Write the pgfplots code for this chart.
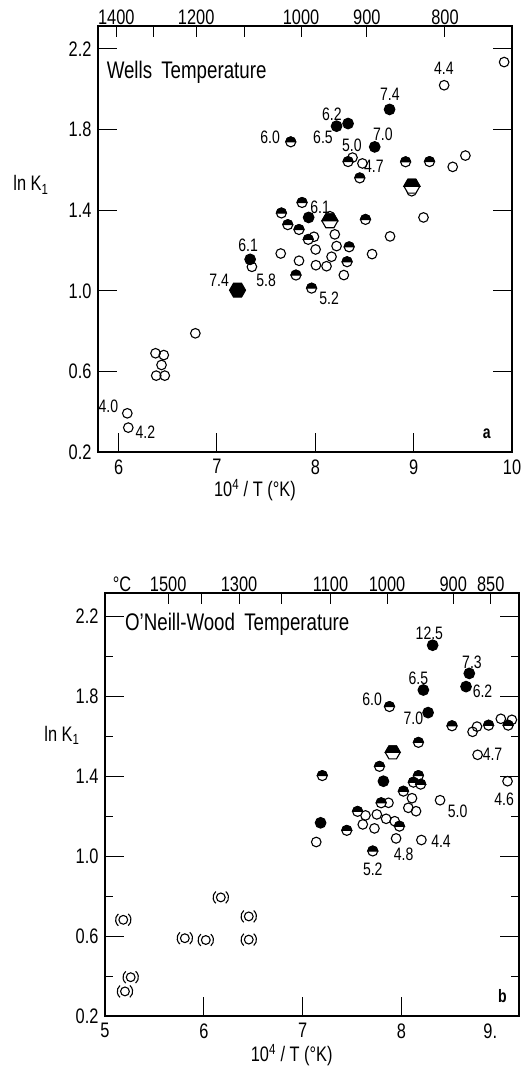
\documentclass[border=0pt]{standalone}
\usepackage{fontspec}
\setmainfont{Liberation Sans}[FakeStretch=0.78]
\usepackage{pgfplots}
\pgfplotsset{compat=1.18}
\usetikzlibrary{plotmarks}

% marks: half filled circle, hexagons, circle in brackets
\pgfdeclareplotmark{halfc}{%
  \pgfpathcircle{\pgfpointorigin}{\pgfplotmarksize}%
  \pgfsetfillcolor{white}\pgfusepathqfillstroke
  \pgfpathmoveto{\pgfqpoint{\pgfplotmarksize}{0pt}}%
  \pgfpatharc{0}{180}{\pgfplotmarksize}%
  \pgfpathclose
  \pgfsetfillcolor{black}\pgfusepathqfillstroke}
\pgfdeclareplotmark{hexf}{%
  \pgfpathmoveto{\pgfpointpolar{0}{\pgfplotmarksize}}%
  \pgfpathlineto{\pgfpointpolar{60}{\pgfplotmarksize}}%
  \pgfpathlineto{\pgfpointpolar{120}{\pgfplotmarksize}}%
  \pgfpathlineto{\pgfpointpolar{180}{\pgfplotmarksize}}%
  \pgfpathlineto{\pgfpointpolar{240}{\pgfplotmarksize}}%
  \pgfpathlineto{\pgfpointpolar{300}{\pgfplotmarksize}}%
  \pgfpathclose
  \pgfsetfillcolor{black}\pgfusepathqfillstroke}
\pgfdeclareplotmark{hexh}{%
  \pgfpathmoveto{\pgfpointpolar{0}{\pgfplotmarksize}}%
  \pgfpathlineto{\pgfpointpolar{60}{\pgfplotmarksize}}%
  \pgfpathlineto{\pgfpointpolar{120}{\pgfplotmarksize}}%
  \pgfpathlineto{\pgfpointpolar{180}{\pgfplotmarksize}}%
  \pgfpathlineto{\pgfpointpolar{240}{\pgfplotmarksize}}%
  \pgfpathlineto{\pgfpointpolar{300}{\pgfplotmarksize}}%
  \pgfpathclose
  \pgfsetfillcolor{white}\pgfusepathqfillstroke
  \pgfpathmoveto{\pgfpointpolar{0}{\pgfplotmarksize}}%
  \pgfpathlineto{\pgfpointpolar{60}{\pgfplotmarksize}}%
  \pgfpathlineto{\pgfpointpolar{120}{\pgfplotmarksize}}%
  \pgfpathlineto{\pgfpointpolar{180}{\pgfplotmarksize}}%
  \pgfpathclose
  \pgfsetfillcolor{black}\pgfusepathqfillstroke}
\pgfdeclareplotmark{pcirc}{%
  \pgfpathcircle{\pgfpointorigin}{\pgfplotmarksize}%
  \pgfusepathqstroke
  \pgfpathmoveto{\pgfpointpolar{130}{1.75\pgfplotmarksize}}%
  \pgfpatharc{130}{230}{1.75\pgfplotmarksize}%
  \pgfpathmoveto{\pgfpointpolar{-50}{1.75\pgfplotmarksize}}%
  \pgfpatharc{-50}{50}{1.75\pgfplotmarksize}%
  \pgfusepathqstroke}

\pgfplotsset{
  panel/.style={scale only axis, anchor=south west, clip=false,
    axis line style={line width=1.4pt}, tick style={line width=1pt, black},
    major tick length=19pt, minor tick length=8pt, tick align=inside,
    ticklabel style={font=\fontsize{21}{24}\selectfont},
    xticklabel style={yshift=-4pt}, yticklabel style={xshift=-3pt}},
  toptemp/.style={scale only axis, anchor=south west,
    axis x line*=top, axis y line=none, axis line style={line width=1.4pt},
    tick style={line width=1pt, black}, major tick length=11pt, tick align=inside,
    xticklabel style={font=\fontsize{21}{24}\selectfont, inner sep=1.5pt}},
  op/.style={only marks, mark=o, mark size=4.8pt, mark options={line width=1.1pt, draw=black}},
  fl/.style={only marks, mark=*, mark size=5.3pt, mark options={line width=1.1pt, draw=black, fill=black}},
  hf/.style={only marks, mark=halfc, mark size=5pt, mark options={line width=1.1pt, draw=black}},
  pc/.style={only marks, mark=pcirc, mark size=4.4pt, mark options={line width=1.1pt, draw=black}},
}
\tikzset{lab/.style={font=\fontsize{18}{21}\selectfont, inner sep=0pt},
  big/.style={font=\fontsize{21}{24}\selectfont, inner sep=0pt}}

\begin{document}
\begin{tikzpicture}
\useasboundingbox (0,0) rectangle (522pt,-1068pt);

% ---------- panel a: Wells temperature ----------
\begin{axis}[panel, at={(98pt,-452pt)}, width=414pt, height=426pt,
  xmin=5.79, xmax=10, ymin=0.2, ymax=2.314,
  xtick={6,7,8,9,10}, xticklabels={6,7,8,9,10}, xtick pos=left,
  ytick={0.2,0.6,1.0,1.4,1.8,2.2}, yticklabels={0.2,0.6,1.0,1.4,1.8,2.2}]
\addplot[op] coordinates {
 (9.92,2.135)(9.31,2.02)(8.378,1.661)(8.479,1.632)(9.397,1.615)(9.526,1.671)
 (8.98,1.494)(9.10,1.364)(8.148,1.370)(7.986,1.268)(8.198,1.28)(8.003,1.205)
 (8.216,1.222)(7.648,1.185)(8.577,1.182)(8.76,1.27)(7.834,1.149)(8.165,1.169)
 (8.006,1.127)(8.114,1.122)(8.29,1.078)(7.355,1.119)(6.78,0.789)(6.375,0.69)
 (6.459,0.681)(6.436,0.632)(6.382,0.579)(6.469,0.579)(6.088,0.392)(6.098,0.321)
};
\addplot[hf] coordinates {
 (7.75,1.739)(8.333,1.641)(8.452,1.56)(8.918,1.64)(9.161,1.641)(7.865,1.438)
 (7.655,1.386)(8.51,1.354)(7.72,1.328)(7.834,1.304)(7.928,1.255)(8.344,1.218)
 (8.323,1.144)(7.803,1.078)(7.962,1.013)
};
\addplot[fl] coordinates {
 (8.755,1.90)(8.216,1.817)(8.333,1.83)(8.604,1.714)(7.932,1.364)(7.337,1.156)
};
\addplot[only marks, mark=hexh, mark size=8pt, mark options={line width=1.1pt, draw=black}]
 coordinates {(8.982,1.519)(8.148,1.347)};
\addplot[only marks, mark=hexf, mark size=8pt, mark options={line width=1.1pt, draw=black}]
 coordinates {(7.209,1.003)};

\node[font=\fontsize{24}{28}\selectfont, inner sep=0pt, anchor=west] at (axis cs:5.877,2.086) {Wells\, Temperature};
\node[lab] at (axis cs:9.307,2.106) {4.4};
\node[lab] at (axis cs:8.758,1.977) {7.4};
\node[lab] at (axis cs:8.169,1.877) {6.2};
\node[lab] at (axis cs:7.54,1.763) {6.0};
\node[lab] at (axis cs:8.078,1.763) {6.5};
\node[lab] at (axis cs:8.372,1.724) {5.0};
\node[lab] at (axis cs:8.687,1.778) {7.0};
\node[lab] at (axis cs:8.596,1.619) {4.7};
\node[lab] at (axis cs:8.049,1.416) {6.1};
\node[lab] at (axis cs:7.317,1.227) {6.1};
\node[lab] at (axis cs:7.022,1.054) {7.4};
\node[lab] at (axis cs:7.5,1.054) {5.8};
\node[lab] at (axis cs:8.14,0.964) {5.2};
\node[lab] at (axis cs:5.895,0.428) {4.0};
\node[lab] at (axis cs:6.271,0.299) {4.2};
\node[lab, font=\fontsize{18}{21}\selectfont\bfseries] at (axis cs:9.743,0.289) {a};
\node[big] at (rel axis cs:-0.162,0.627) {ln K\textsubscript{1}};
\node[big] at (rel axis cs:0.379,-0.09) {10\textsuperscript{4} / T (°K)};
\end{axis}
\begin{axis}[toptemp, at={(98pt,-452pt)}, width=414pt, height=426pt,
  xmin=5.79, xmax=10, ymin=0.2, ymax=2.314,
  xtick={5.9767,6.3567,6.7882,7.2825,7.8545,8.5241,9.3184},
  xticklabels={1400,,1200,,1000,900,800}]
\end{axis}

% ---------- panel b: O'Neill-Wood temperature ----------
\begin{axis}[panel, at={(105pt,-1016pt)}, width=414pt, height=423pt,
  xmin=5, xmax=9.19, ymin=0.2, ymax=2.315,
  xtick={5,6,7,8}, xticklabels={5,6,7,8}, xtick pos=left,
  extra x ticks={9}, extra x tick labels={9.},
  extra x tick style={major tick length=0pt, xticklabel style={xshift=-10pt}},
  ytick={0.2,0.6,1.0,1.4,1.8,2.2}, yticklabels={0.2,0.6,1.0,1.4,1.8,2.2},
  minor ytick={0.4,0.8,1.2,1.6,2.0}]
\addplot[op] coordinates {
 (8.765,1.647)(8.72,1.621)(9.006,1.686)(9.118,1.681)(8.771,1.506)(9.074,1.374)
 (8.107,1.289)(8.391,1.279)(7.869,1.266)(8.07,1.241)(8.148,1.224)
 (7.636,1.203)(7.751,1.208)(7.845,1.186)(7.932,1.174)(7.609,1.158)(7.727,1.138)
 (7.946,1.088)(8.202,1.08)(7.138,1.07)
};
\addplot[hf] coordinates {
 (7.879,1.747)(8.512,1.651)(8.882,1.654)(9.08,1.654)(8.172,1.568)(7.778,1.448)
 (7.199,1.402)(8.172,1.402)(8.121,1.369)(8.195,1.359)(8.02,1.324)(7.795,1.266)
 (7.556,1.223)(7.98,1.149)(7.447,1.128)(7.71,1.025)
};
\addplot[fl] coordinates {
 (8.316,2.054)(8.687,1.913)(8.654,1.847)(8.222,1.83)(8.27,1.717)(7.818,1.374)(7.182,1.166)
};
\addplot[only marks, mark=hexh, mark size=7.5pt, mark options={line width=1.1pt, draw=black}]
 coordinates {(7.912,1.518)};
\addplot[pc] coordinates {
 (6.172,0.793)(5.185,0.681)(6.455,0.698)(5.808,0.589)(6.02,0.58)(6.455,0.582)
 (5.26,0.394)(5.202,0.323)
};

\node[font=\fontsize{24}{28}\selectfont, inner sep=0pt, anchor=west] at (axis cs:5.202,2.16) {O'Neill-Wood\, Temperature};
\node[big] at (axis cs:5.172,2.359) {°C};
\node[lab] at (axis cs:8.283,2.112) {12.5};
\node[lab] at (axis cs:8.714,1.971) {7.3};
\node[lab] at (axis cs:8.172,1.888) {6.5};
\node[lab] at (axis cs:8.821,1.822) {6.2};
\node[lab] at (axis cs:7.704,1.786) {6.0};
\node[lab] at (axis cs:8.121,1.689) {7.0};
\node[lab] at (axis cs:8.922,1.507) {4.7};
\node[lab] at (axis cs:9.04,1.283) {4.6};
\node[lab] at (axis cs:8.569,1.225) {5.0};
\node[lab] at (axis cs:8.401,1.076) {4.4};
\node[lab] at (axis cs:8.023,1.009) {4.8};
\node[lab] at (axis cs:7.71,0.935) {5.2};
\node[lab, font=\fontsize{18}{21}\selectfont\bfseries] at (axis cs:9.023,0.30) {b};
\node[big] at (rel axis cs:-0.104,0.664) {ln K\textsubscript{1}};
\node[big] at (rel axis cs:0.451,-0.092) {10\textsuperscript{4} / T (°K)};
\end{axis}
\begin{axis}[toptemp, at={(105pt,-1016pt)}, width=414pt, height=423pt,
  xmin=5, xmax=9.19, ymin=0.2, ymax=2.315,
  xtick={5.6397,5.9767,6.3567,6.7882,7.2825,7.8545,8.5241,8.9036},
  xticklabels={1500,,1300,,1100,1000,900,850}]
\end{axis}
\end{tikzpicture}
\end{document}
